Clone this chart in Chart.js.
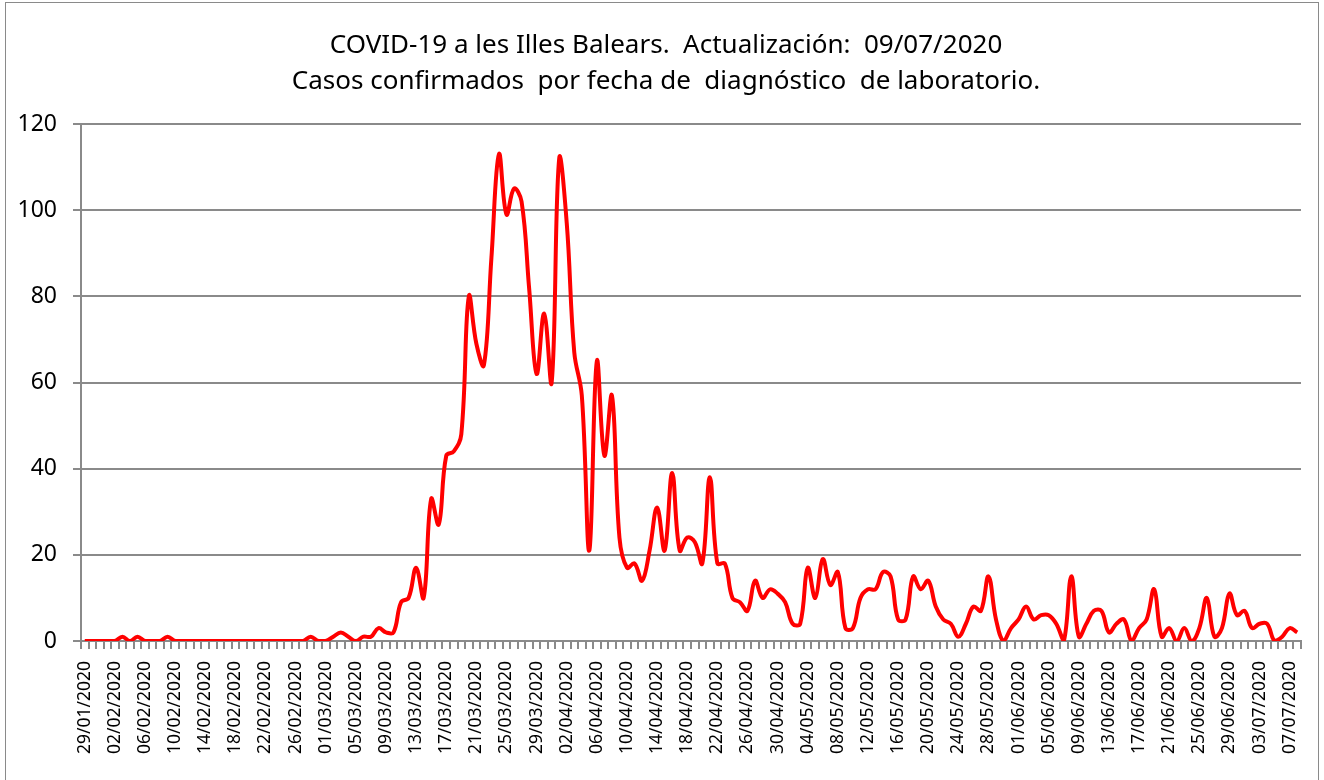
<!DOCTYPE html>
<html>
<head>
<meta charset="utf-8">
<title>COVID-19 Illes Balears</title>
<script src="https://cdn.jsdelivr.net/npm/chart.js@4.4.1/dist/chart.umd.min.js"></script>
<style>
    html, body { margin: 0; padding: 0; background: #fff; }
    #wrap { width: 1324px; height: 780px; }
</style>
</head>
<body>
<div id="wrap"><canvas id="grafico-casos" width="1324" height="780"></canvas></div>
<script>
// casos confirmados por día (29/01/2020 - 08/07/2020)
var casos_enero   = [0, 0, 0];
var casos_febrero = [0, 0, 1, 0, 1, 0, 0, 0, 1, 0, 0, 0, 0, 0, 0, 0, 0, 0, 0, 0, 0, 0, 0, 0, 0, 0, 0, 1, 0];
var casos_marzo   = [0, 1, 2, 1, 0, 1, 1, 3, 2, 2, 9, 10, 17, 10, 33, 27, 43, 44, 48, 80, 69, 64, 89, 113, 99, 105, 102, 82, 62, 76, 60];
var casos_abril   = [112, 97, 67, 57, 21, 65, 43, 57, 24, 17, 18, 14, 21, 31, 21, 39, 21, 24, 23, 18, 38, 18, 18, 10, 9, 7, 14, 10, 12, 11];
var casos_mayo    = [9, 4, 4, 17, 10, 19, 13, 16, 3, 3, 10, 12, 12, 16, 15, 5, 5, 15, 12, 14, 8, 5, 4, 1, 4, 8, 7, 15, 5, 0, 3];
var casos_junio   = [5, 8, 5, 6, 6, 4, 0, 15, 1, 4, 7, 7, 2, 4, 5, 0, 3, 5, 12, 1, 3, 0, 3, 0, 3, 10, 1, 3, 11, 6];
var casos_julio   = [7, 3, 4, 4, 0, 1, 3, 2];

var fecha_inicio = new Date(2020, 0, 29);
var y_ticks = [0, 20, 40, 60, 80, 100, 120];
var titulo = [
    'COVID-19 a les Illes Balears.  Actualización:  09/07/2020',
    'Casos confirmados  por fecha de  diagnóstico  de laboratorio.'
];

var casos = [].concat(casos_enero, casos_febrero, casos_marzo, casos_abril, casos_mayo, casos_junio, casos_julio);

const pad = (n) => (n < 10 ? '0' : '') + n;
var fechas = casos.map((v, i) => {
    let d = new Date(fecha_inicio.getFullYear(), fecha_inicio.getMonth(), fecha_inicio.getDate() + i);
    return `${pad(d.getDate())}/${pad(d.getMonth() + 1)}/${d.getFullYear()}`;
});

const GRIS = '#8a8a8a';

// fondo, marco exterior y título (centrado sobre el marco, no sobre el área del gráfico)
const marco = {
    id: 'marco',
    beforeDraw: (chart) => {
        let ctx = chart.ctx;
        ctx.save();
        ctx.fillStyle = '#fff';
        ctx.fillRect(0, 0, chart.width, chart.height);
        ctx.restore();
    },
    afterDraw: (chart) => {
        let ctx = chart.ctx;
        ctx.save();
        ctx.strokeStyle = GRIS;
        ctx.lineWidth = 1;
        ctx.strokeRect(5.5, 2.5, 1313, 820);

        ctx.fillStyle = '#000';
        ctx.font = '26px "Noto Sans"';
        ctx.textAlign = 'center';
        ctx.textBaseline = 'alphabetic';
        ctx.fillText(titulo[0], 666, 53);
        ctx.fillText(titulo[1], 666, 89);
        ctx.restore();
    }
};

new Chart(document.getElementById('grafico-casos'), {
    type: 'line',
    data: {
        labels: fechas,
        datasets: [{
            label: 'Casos',
            data: casos,
            borderColor: '#ff0000',
            backgroundColor: '#ff0000',
            borderWidth: 4,
            pointRadius: 0,
            tension: 0.4,
            fill: false
        }]
    },
    options: {
        responsive: false,
        animation: false,
        devicePixelRatio: 1,
        layout: {
            padding: { left: 0, right: 23, top: 124, bottom: 0 }
        },
        plugins: {
            legend: { display: false },
            tooltip: { enabled: false },
            title: { display: false }
        },
        scales: {
            x: {
                offset: true,
                grid: {
                    offset: true,
                    drawOnChartArea: false,
                    drawTicks: true,
                    tickLength: 8,
                    color: GRIS,
                    lineWidth: 2
                },
                border: { display: true, color: GRIS, width: 2 },
                ticks: {
                    autoSkip: false,
                    minRotation: 90,
                    maxRotation: 90,
                    padding: 12,
                    color: '#000',
                    font: { family: 'Noto Sans', size: 17.5 },
                    callback: function(val, idx) {
                        return idx % 4 === 0 ? this.getLabelForValue(val) : '';
                    }
                },
                afterFit: (scale) => {
                    scale.height = 139;
                    scale.paddingLeft = 0;
                    scale.paddingRight = 0;
                }
            },
            y: {
                min: 0,
                max: 120,
                afterBuildTicks: (scale) => {
                    scale.ticks = y_ticks.map(v => ({ value: v }));
                },
                grid: {
                    color: GRIS,
                    lineWidth: 2,
                    tickLength: 8
                },
                border: { display: true, color: GRIS, width: 2 },
                ticks: {
                    color: '#000',
                    padding: 16,
                    font: { family: 'Noto Sans', size: 23 }
                },
                afterFit: (scale) => { scale.width = 81; }
            }
        }
    },
    plugins: [marco]
});
</script>
</body>
</html>
